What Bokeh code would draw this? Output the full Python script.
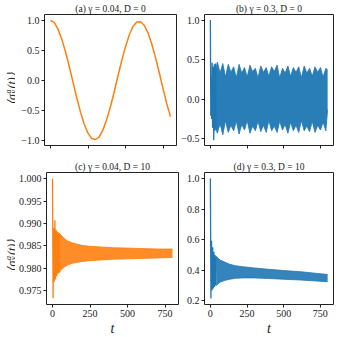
import math
from bokeh.plotting import figure
from bokeh.layouts import column, row
from bokeh.models import FixedTicker, Range1d
from bokeh.core.properties import value
from bokeh.embed import file_html
from bokeh.resources import INLINE

ORANGE = "#ff7f0e"
BLUE = "#1f77b4"
FONT = "Liberation Serif"

x_ticks = [0, 250, 500, 750]
x_tick_labels = ["0", "250", "500", "750"]

# (a) gamma = 0.04, D = 0
t_a = [0, 25, 50, 75, 100, 125, 150, 175, 200, 225, 250, 275, 300, 325, 350, 375, 400,
       425, 450, 475, 500, 525, 550, 575, 600, 625, 650, 675, 700, 725, 750, 775, 800]
y_a = [1.00, 0.97, 0.855, 0.69, 0.48, 0.235, -0.025, -0.285, -0.525, -0.725, -0.875, -0.965,
       -0.98, -0.935, -0.82, -0.645, -0.43, -0.185, 0.08, 0.335, 0.565, 0.76, 0.90, 0.975,
       0.98, 0.92, 0.795, 0.61, 0.385, 0.13, -0.13, -0.385, -0.60]
a_yticks = [-1.0, -0.5, 0.0, 0.5, 1.0]
a_ylabels = ["\u22121.0", "\u22120.5", "0.0", "0.5", "1.0"]

# (b) gamma = 0.3, D = 0
t_b_early = [0, 3, 6, 9, 12, 15, 19, 23, 27, 31, 35, 39]
y_b_early = [1.00, -0.21, 0.28, -0.25, 0.46, -0.36, 0.41, -0.52, 0.44, -0.40, 0.45, -0.38]
t_b = [30, 48, 66, 85, 103, 122, 140, 159, 177, 196,
       214, 233, 251, 270, 288, 307, 325, 344, 362, 381,
       399, 418, 436, 455, 473, 492, 510, 529, 547, 566,
       584, 603, 621, 640, 658, 677, 695, 714, 732, 751,
       769, 788, 800]
up_b = [0.32, 0.47, 0.33, 0.45, 0.28, 0.44, 0.34, 0.41, 0.27, 0.44,
        0.33, 0.40, 0.28, 0.43, 0.35, 0.39, 0.27, 0.42, 0.34, 0.40,
        0.29, 0.41, 0.35, 0.43, 0.27, 0.39, 0.33, 0.42, 0.29, 0.40,
        0.34, 0.41, 0.27, 0.42, 0.33, 0.39, 0.29, 0.41, 0.34, 0.40,
        0.28, 0.39, 0.37]
lo_b = [-0.34, -0.43, -0.31, -0.45, -0.27, -0.42, -0.33, -0.40, -0.28, -0.44,
        -0.32, -0.39, -0.27, -0.43, -0.34, -0.40, -0.28, -0.41, -0.33, -0.42,
        -0.27, -0.40, -0.34, -0.42, -0.28, -0.39, -0.32, -0.43, -0.29, -0.40,
        -0.33, -0.42, -0.27, -0.40, -0.34, -0.41, -0.28, -0.42, -0.33, -0.39,
        -0.29, -0.40, -0.13]
b_yticks = [-0.5, 0.0, 0.5, 1.0]
b_ylabels = ["\u22120.5", "0.0", "0.5", "1.0"]

# (c) gamma = 0.04, D = 10
t_c_early = [0, 4, 8, 12, 16, 20, 24, 28, 32, 36, 40, 44]
y_c_early = [1.0000, 0.9733, 0.9890, 0.9770, 0.9907, 0.9775, 0.9886, 0.9782, 0.9882, 0.9788,
             0.9878, 0.9791]
t_c = [40, 60, 80, 100, 130, 160, 200, 250, 300, 400, 500, 600, 700, 800]
up_c = [0.9880, 0.9873, 0.9866, 0.9861, 0.9857, 0.9854, 0.9851, 0.9849, 0.9848, 0.9846,
        0.9845, 0.9844, 0.9843, 0.9843]
lo_c = [0.9788, 0.9797, 0.9803, 0.9807, 0.9811, 0.9813, 0.9815, 0.9817, 0.9818, 0.9820,
        0.9821, 0.9822, 0.9823, 0.9824]
c_yticks = [0.975, 0.980, 0.985, 0.990, 0.995, 1.000]
c_ylabels = ["0.975", "0.980", "0.985", "0.990", "0.995", "1.000"]

# (d) gamma = 0.3, D = 10
t_d_early = [0, 4, 8, 12, 16, 20, 24, 28, 32, 36, 40]
y_d_early = [1.00, 0.215, 0.592, 0.27, 0.55, 0.28, 0.52, 0.29, 0.50, 0.30, 0.49]
t_d = [40, 66, 100, 132, 170, 221, 300, 397, 500, 618, 700, 800]
up_d = [0.49, 0.467, 0.452, 0.439, 0.430, 0.423, 0.415, 0.406, 0.398, 0.390, 0.382, 0.372]
lo_d = [0.300, 0.322, 0.334, 0.341, 0.347, 0.350, 0.350, 0.346, 0.341, 0.336, 0.331, 0.325]
d_yticks = [0.2, 0.4, 0.6, 0.8, 1.0]
d_ylabels = ["0.2", "0.4", "0.6", "0.8", "1.0"]

# y-axis label pieces: <sigma_y^a(t)>
ylab_main1 = "\u27e8\u03c3"
ylab_sup = "a"
ylab_sub = "y"
ylab_main2 = "(t)\u27e9"

LBL_W = 15
LEFT_B = 29


def make_fig(title, yr, yticks, ylabels, fw, fh, bl, br, bt, bb, show_xlabels):
    p = figure(frame_width=fw, frame_height=fh, output_backend="svg", toolbar_location=None,
               x_range=Range1d(-40, 840), y_range=Range1d(*yr),
               min_border_left=bl, min_border_right=br, min_border_top=bt, min_border_bottom=bb)
    p.title.text = title
    p.title.align = "center"
    p.title.text_font = FONT
    p.title.text_font_size = "9.5px"
    p.title.text_font_style = "normal"
    p.title.text_color = "#222222"
    p.title.standoff = 2
    p.grid.visible = False
    p.outline_line_color = "#222222"
    p.outline_line_width = 1
    p.background_fill_color = "white"
    p.border_fill_color = "white"
    for ax in (p.xaxis[0], p.yaxis[0]):
        ax.axis_line_color = None
        ax.major_tick_in = 0
        ax.major_tick_out = 3
        ax.minor_tick_in = 0
        ax.minor_tick_out = 0
        ax.major_tick_line_color = "#222222"
        ax.major_label_text_font = FONT
        ax.major_label_text_font_size = "10px"
        ax.major_label_text_color = "#222222"
        ax.major_label_standoff = 2
    p.yaxis.axis_label_standoff = 0
    p.xaxis.ticker = FixedTicker(ticks=x_ticks)
    p.yaxis.ticker = FixedTicker(ticks=yticks)
    p.yaxis.major_label_overrides = dict(zip(yticks, ylabels))
    if show_xlabels:
        p.xaxis.major_label_overrides = dict(zip(x_ticks, x_tick_labels))
        p.xaxis.axis_label = "t"
        p.xaxis.axis_label_text_font = FONT
        p.xaxis.axis_label_text_font_style = "italic"
        p.xaxis.axis_label_text_font_size = "14px"
        p.xaxis.axis_label_text_color = "#222222"
        p.xaxis.axis_label_standoff = 1
    else:
        p.xaxis.major_label_overrides = {t: "" for t in x_ticks}
    return p


def label_fig(total_h, yc):
    # narrow strip holding the rotated y label
    q = figure(frame_width=LBL_W, frame_height=total_h, output_backend="svg",
               toolbar_location=None, x_range=Range1d(0, LBL_W), y_range=Range1d(0, total_h),
               x_axis_type=None, y_axis_type=None,
               min_border_left=0, min_border_right=0, min_border_top=0, min_border_bottom=0)
    q.grid.visible = False
    q.outline_line_color = None
    q.background_fill_color = "white"
    q.border_fill_color = "white"
    xb = 11.5
    y0 = yc - 16
    common = dict(angle=math.pi / 2, text_font=value(FONT), text_color="#222222",
                  text_baseline="alphabetic", text_align="left", text_font_style="italic")
    q.text(x=[xb], y=[y0], text=[ylab_main1], text_font_size=value("12px"), **common)
    q.text(x=[xb - 4], y=[y0 + 11.5], text=[ylab_sup], text_font_size=value("8px"), **common)
    q.text(x=[xb + 1.5], y=[y0 + 11.5], text=[ylab_sub], text_font_size=value("8px"), **common)
    q.text(x=[xb], y=[y0 + 16.5], text=[ylab_main2], text_font_size=value("12px"), **common)
    return q


pa = make_fig("(a) \u03b3 = 0.04, D = 0", (-1.08, 1.10), a_yticks, a_ylabels,
              132, 131, LEFT_B, 2, 9, 10, False)
pa.line(t_a, y_a, line_color=ORANGE, line_width=1.5)
la = label_fig(9 + 131 + 10, 10 + 131 / 2.0)

pb = make_fig("(b) \u03b3 = 0.3, D = 0", (-0.585, 1.07), b_yticks, b_ylabels,
              129, 131, 24, 2, 9, 10, False)
pb.varea(x=t_b, y1=lo_b, y2=up_b, fill_color=BLUE, fill_alpha=0.95)
pb.line(t_b, up_b, line_color=BLUE, line_width=0.8)
pb.line(t_b, lo_b, line_color=BLUE, line_width=0.8)
pb.line(t_b_early, y_b_early, line_color=BLUE, line_width=1.3)

pc = make_fig("(c) \u03b3 = 0.04, D = 10", (0.9719, 1.0014), c_yticks, c_ylabels,
              132, 132, LEFT_B, 2, 17, 26, True)
pc.varea(x=t_c, y1=lo_c, y2=up_c, fill_color=ORANGE, fill_alpha=0.9)
pc.line(t_c, up_c, line_color=ORANGE, line_width=0.8)
pc.line(t_c, lo_c, line_color=ORANGE, line_width=0.8)
pc.line(t_c_early, y_c_early, line_color=ORANGE, line_width=1.3)
lc = label_fig(17 + 132 + 26, 26 + 132 / 2.0)

pd = make_fig("(d) \u03b3 = 0.3, D = 10", (0.176, 1.039), d_yticks, d_ylabels,
              129, 132, 24, 2, 17, 26, True)
pd.varea(x=t_d, y1=lo_d, y2=up_d, fill_color=BLUE, fill_alpha=0.9)
pd.line(t_d, up_d, line_color=BLUE, line_width=0.8)
pd.line(t_d, lo_d, line_color=BLUE, line_width=0.8)
pd.line(t_d_early, y_d_early, line_color=BLUE, line_width=1.3)

layout = column(row(la, pa, pb, spacing=0), row(lc, pc, pd, spacing=0), spacing=0)

with open("out.html", "w") as f:
    f.write(file_html(layout, INLINE))
